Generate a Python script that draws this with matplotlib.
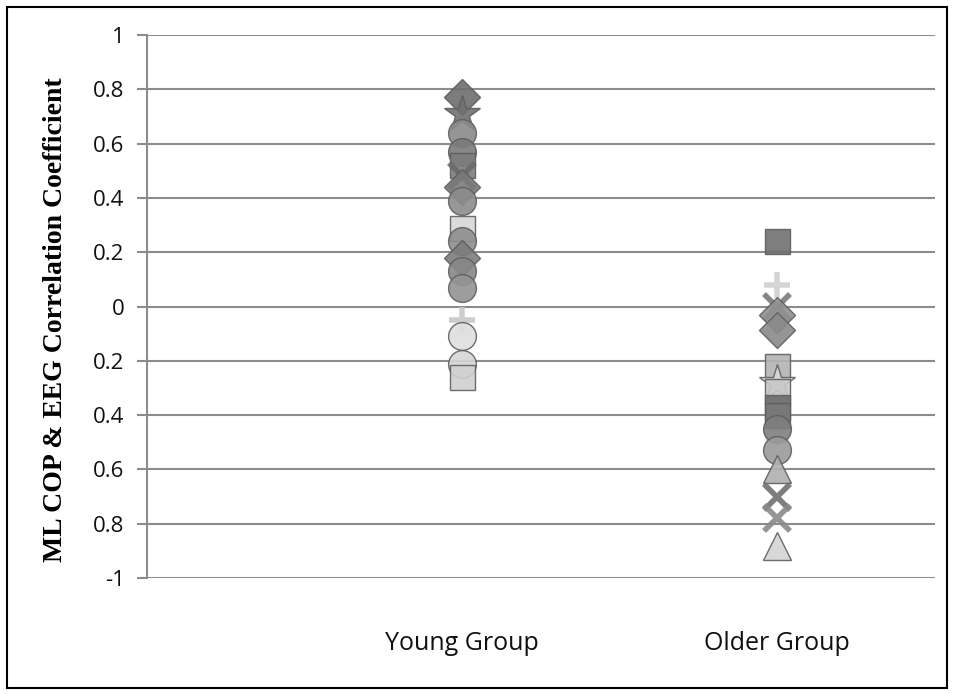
import matplotlib
matplotlib.use("Agg")
import matplotlib.pyplot as plt
from matplotlib.patches import Rectangle

# correlation coefficients per subject
young_r = [0.77, 0.71, 0.64, 0.57, 0.52, 0.48, 0.44, 0.39, 0.29, 0.24,
           0.18, 0.13, 0.07, -0.05, -0.11, -0.21, -0.26]
older_r = [0.24, 0.08, 0.00, -0.03, -0.085, -0.22, -0.28, -0.31, -0.37,
           -0.40, -0.45, -0.53, -0.60, -0.70, -0.78, -0.88]

group_x = [2, 4]
group_names = ["Young Group", "Older Group"]
ytick_vals = [1, 0.8, 0.6, 0.4, 0.2, 0, -0.2, -0.4, -0.6, -0.8, -1]
ytick_text = ["1", "0.8", "0.6", "0.4", "0.2", "0", "0.2", "0.4", "0.6", "0.8", "-1"]

# per-point look (marker, fill grey)
young_style = [("D", "#6e6e6e"), ("*", "#707070"), ("o", "#8a8a8a"), ("o", "#7a7a7a"),
               ("s", "#7c7c7c"), ("x", "#6a6a6a"), ("D", "#7a7a7a"), ("o", "#8c8c8c"),
               ("s", "#d8d8d8"), ("o", "#8e8e8e"), ("D", "#7c7c7c"), ("o", "#878787"),
               ("o", "#939393"), ("+", "#c8c8c8"), ("o", "#dedede"), ("o", "#d6d6d6"),
               ("s", "#d0d0d0")]
older_style = [("s", "#707070"), ("+", "#d0d0d0"), ("x", "#7a7a7a"), ("D", "#909090"),
               ("D", "#8a8a8a"), ("s", "#b4b4b4"), ("*", "#d8d8d8"), ("s", "#c8c8c8"),
               ("s", "#6c6c6c"), ("s", "#787878"), ("o", "#7e7e7e"), ("o", "#9a9a9a"),
               ("^", "#b0b0b0"), ("x", "#707070"), ("x", "#8a8a8a"), ("^", "#d4d4d4")]

fig = plt.figure(figsize=(9.54, 6.94), dpi=100)
ax = fig.add_axes([0.154, 0.167, 0.826, 0.7826])

for y in ytick_vals:
    ax.axhline(y, color="#8c8c8c", linewidth=1.5, zorder=1)


def draw_group(x, values, styles):
    for v, (m, c) in zip(values, styles):
        if m in ("x", "+"):
            ax.plot(x, v, marker=m, markersize=19, markeredgewidth=4,
                    color=c, linestyle="none", alpha=0.9, zorder=3)
        else:
            size = 27 if m == "*" else 20 if m in ("o", "^") else 18
            ax.plot(x, v, marker=m, markersize=size, markerfacecolor=c,
                    markeredgecolor="#5e5e5e", markeredgewidth=1.0,
                    linestyle="none", alpha=0.9, zorder=3)


draw_group(group_x[0], young_r, young_style)
draw_group(group_x[1], older_r, older_style)

ax.set_xlim(0, 5)
ax.set_ylim(-1, 1)
for s in ["top", "right", "bottom"]:
    ax.spines[s].set_visible(False)
ax.spines["left"].set_color("#8c8c8c")
ax.spines["left"].set_linewidth(1.5)

ax.set_yticks(ytick_vals)
ax.set_yticklabels(ytick_text, fontsize=16, family="Open Sans", color="#111111")
ax.tick_params(axis="y", direction="out", length=7, width=1.5, color="#8c8c8c", pad=9)
ax.set_xticks([])

for gx, name in zip(group_x, group_names):
    ax.text(gx, -1.24, name, ha="center", va="center", fontsize=18,
            family="Open Sans", color="#111111")

ax.set_ylabel("ML COP & EEG Correlation Coefficient", fontsize=20,
              family="Liberation Serif", fontweight="bold")
ax.yaxis.set_label_coords(-0.1, 0.475)

fig.patches.append(Rectangle((0.0075, 0.009), 0.985, 0.981, transform=fig.transFigure,
                             fill=False, edgecolor="black", linewidth=1.5))

fig.savefig("out.png", dpi=100, facecolor="white")
